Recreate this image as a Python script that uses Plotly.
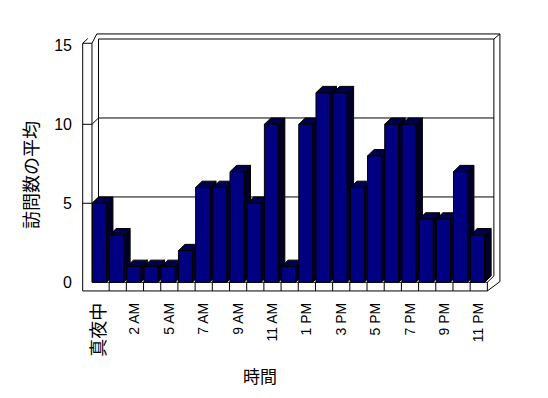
import plotly.graph_objects as go

# ---- data ----
hours = ["真夜中", "1 AM", "2 AM", "3 AM", "5 AM", "6 AM", "7 AM", "8 AM", "9 AM",
         "10 AM", "11 AM", "12 PM", "1 PM", "2 PM", "3 PM", "4 PM", "5 PM", "6 PM",
         "7 PM", "8 PM", "9 PM", "10 PM", "11 PM"]
visits = [5, 3, 1, 1, 1, 2, 6, 6, 7, 5, 10, 1, 10, 12, 12, 6, 8, 10, 10, 4, 4, 7, 3]
y_ticks = [0, 5, 10, 15]
x_title = "時間"
y_title = "訪問数の平均"

# ---- 3D geometry (in axis units) ----
DX, DY = 0.38, 0.40      # bar / wall depth offset
TX, TY = 0.35, 0.32      # wall thickness offset
N = len(visits)
YMAX = y_ticks[-1]
XL_OFF, XR_OFF = -0.47, 0.34
LW_X = -1.04             # left wall outer front edge
FL_Y = -0.55             # floor front bottom edge
LW_TOP = YMAX + 0.13

FRONT = "#000080"
TOP = "#00004c"
SIDE = "#000026"
CJK = "Noto Sans CJK JP"
LAT = "Liberation Sans, Arial, sans-serif"

fig = go.Figure()
line = dict(color="black", width=1)
for i, v in enumerate(visits):
    xl, xr = i + XL_OFF, i + XR_OFF
    fig.add_trace(go.Scatter(x=[xr, xr, xr + DX, xr + DX, xr], y=[0, v, v + DY, DY, 0],
                             fill="toself", fillcolor=SIDE, mode="lines", line=line,
                             hoverinfo="skip", showlegend=False))
    fig.add_trace(go.Scatter(x=[xl, xr, xr + DX, xl + DX, xl], y=[v, v, v + DY, v + DY, v],
                             fill="toself", fillcolor=TOP, mode="lines", line=line,
                             hoverinfo="skip", showlegend=False))
    fig.add_trace(go.Scatter(x=[xl, xr, xr, xl, xl], y=[0, 0, v, v, 0],
                             fill="toself", fillcolor=FRONT, mode="lines", line=line,
                             name=hours[i], hovertemplate="%{text}: " + str(v) + "<extra></extra>",
                             text=[hours[i]] * 5, showlegend=False))

xr_end = N - 0.5
shapes = []
def path(pts, layer="below"):
    d = " ".join(("M" if k == 0 else "L") + f" {p[0]:.3f},{p[1]:.3f}" for k, p in enumerate(pts))
    shapes.append(dict(type="path", path=d, xref="x", yref="y",
                       line=dict(color="black", width=1), layer=layer))

# back wall inner face
path([(-0.5 + DX, DY), (-0.5 + DX, YMAX + DY), (xr_end + DX, YMAX + DY), (xr_end + DX, DY)])
# gridlines across left wall and back wall
for t in y_ticks[1:-1]:
    path([(LW_X, t), (-0.5, t), (-0.5 + DX, t + DY), (xr_end + DX, t + DY)])
# back wall slab top + right
path([(-0.5 + DX - 0.1, YMAX + DY + TY), (xr_end + DX + TX, YMAX + DY + TY),
      (xr_end + DX + TX, 0.04), (xr_end, FL_Y)])
path([(xr_end + DX, YMAX + DY), (xr_end + DX + TX, YMAX + DY + TY)])
# left wall
path([(LW_X, FL_Y), (LW_X, LW_TOP), (-0.5, LW_TOP), (-0.5, 0)])
path([(LW_X, LW_TOP), (LW_X + 0.3, LW_TOP + 0.3)])
path([(-0.5, LW_TOP), (-0.5 + DX - 0.1, YMAX + DY + TY)])
# floor front face and right side
path([(LW_X, FL_Y), (xr_end, FL_Y), (xr_end, 0), (-0.5, 0)])
path([(xr_end, 0), (xr_end + DX, DY)])
for k in range(1, N):
    path([(k - 0.5, FL_Y), (k - 0.5, 0)])

tickvals = list(range(0, N, 2))
ticktext = [(f'<span style="font-family:{CJK};font-size:18px">{h}</span>' if not h[0].isdigit() else h)
            for h in hours[::2]]

fig.update_layout(
    width=548, height=398,
    margin=dict(l=82, r=45, t=33, b=105),
    paper_bgcolor="white", plot_bgcolor="white",
    shapes=shapes,
    xaxis=dict(range=[-1.08, 23.41], showgrid=False, zeroline=False, showline=False,
               automargin=False,
               tickmode="array", tickvals=tickvals, ticktext=ticktext, tickangle=-90,
               ticks="", ticklabelstandoff=6,
               tickfont=dict(family=LAT, size=14, color="black")),
    yaxis=dict(range=[-0.68, 15.78], showgrid=False, zeroline=False, showline=False,
               automargin=False,
               tickmode="array", tickvals=y_ticks, ticktext=[str(t) for t in y_ticks],
               ticks="", ticklabelstandoff=9,
               tickfont=dict(family=LAT, size=16, color="black")),
    annotations=[
        dict(text=y_title, xref="paper", yref="paper", x=-0.1235, y=0.454,
             textangle=-90, showarrow=False, xanchor="center", yanchor="middle",
             font=dict(family=CJK, size=18, color="black")),
        dict(text=x_title, xref="paper", yref="paper", x=0.423, y=-0.319,
             showarrow=False, xanchor="center", yanchor="middle",
             font=dict(family=CJK, size=17, color="black")),
    ],
)

fig.write_html("out.html", config={"displayModeBar": False},
               post_script="document.body.style.margin='0';document.body.style.overflow='hidden';")
